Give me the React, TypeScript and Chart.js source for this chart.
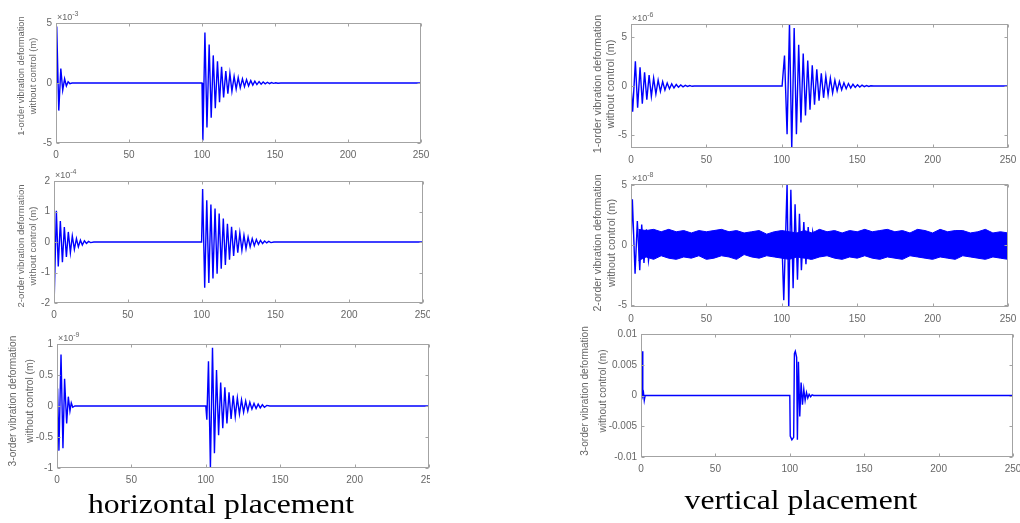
import { useEffect, useRef } from "react";
import { Chart, registerables } from "chart.js";

Chart.register(...registerables);

// ---------- data (in the units shown on each axis) ----------
const xTickValues = [0, 50, 100, 150, 200, 250];

// horizontal placement, 1-order (x10^-3)
const h1Points: [number, number][] = [
  [0, 0], [0.5, 4.7], [1.9, -2.3], [3.3, 1.2], [4.6, -0.6], [5.9, 0.35], [7.1, -0.25], [8.3, 0.1], [9.5, -0.05], [11, 0],
  [100, 0], [100.6, -4.8], [102.0, 4.2], [103.4, -3.7], [104.9, 3.2], [106.3, -2.9], [107.7, 2.3], [109.1, -2.1],
  [110.6, 1.8], [112.0, -1.6], [113.4, 1.35], [114.8, -1.2], [116.3, 1.0], [117.7, -0.9], [119.1, 0.8], [120.5, -0.7],
  [122.0, 0.55], [123.4, -0.5], [124.8, 0.45], [126.2, -0.4], [127.7, 0.35], [129.1, -0.3], [130.5, 0.28], [131.9, -0.24],
  [133.4, 0.2], [134.8, -0.18], [136.2, 0.15], [137.6, -0.13], [139.1, 0.11], [140.5, -0.1], [141.9, 0.08], [143.3, -0.07],
  [144.8, 0.06], [146.2, -0.05], [147.6, 0.04], [149.0, -0.03], [150.5, 0.02], [152, -0.02], [154, 0], [250, 0],
];

// horizontal placement, 2-order (x10^-4)
const h2Points: [number, number][] = [
  [0, 0], [0.2, -1.75], [1.6, 1.02], [2.9, -0.8], [4.3, 0.69], [5.7, -0.66], [7.0, 0.49], [8.4, -0.49], [9.7, 0.33],
  [11.1, -0.35], [12.4, 0.2], [13.8, -0.24], [15.2, 0.11], [16.5, -0.16], [17.9, 0.06], [19.2, -0.1], [20.6, 0.04],
  [22, -0.05], [23.4, 0.02], [24.8, -0.02], [27, 0],
  [100, 0], [100.7, 1.74], [102.1, -1.5], [103.5, 1.37], [104.9, -1.34], [106.3, 1.23], [107.7, -1.2], [109.1, 1.1],
  [110.5, -1.04], [111.9, 0.93], [113.3, -0.88], [114.7, 0.77], [116.1, -0.75], [117.5, 0.6], [118.9, -0.58],
  [120.3, 0.5], [121.7, -0.46], [123.1, 0.38], [124.5, -0.35], [125.9, 0.3], [127.3, -0.27], [128.7, 0.22],
  [130.1, -0.22], [131.5, 0.16], [132.9, -0.16], [134.3, 0.11], [135.7, -0.12], [137.1, 0.08], [138.5, -0.08],
  [139.9, 0.05], [141.3, -0.05], [142.7, 0.03], [144.1, -0.03], [145.5, 0.02], [147, -0.02], [149, 0], [250, 0],
];

// horizontal placement, 3-order (x10^-9)
const h3Points: [number, number][] = [
  [0, 0], [0.4, 0.28], [1.3, -0.72], [2.7, 0.83], [4.0, -0.68], [5.1, 0.44], [6.5, -0.28], [7.6, 0.15], [8.7, -0.08],
  [9.6, 0.05], [10.6, -0.02], [12, 0],
  [100, 0], [100.7, -0.22], [101.8, 0.72], [103.1, -1.0], [104.5, 0.94], [105.8, -0.76], [107.2, 0.58], [108.6, -0.47],
  [110.0, 0.38], [111.4, -0.36], [112.8, 0.3], [114.2, -0.28], [115.6, 0.22], [117.0, -0.21], [118.4, 0.17],
  [119.8, -0.17], [121.2, 0.13], [122.6, -0.13], [124.0, 0.1], [125.4, -0.1], [126.8, 0.08], [128.2, -0.08],
  [129.6, 0.06], [131.0, -0.05], [132.4, 0.04], [133.8, -0.04], [135.2, 0.03], [136.6, -0.03], [138.0, 0.02],
  [139.4, -0.02], [141, 0.01], [143, 0], [250, 0],
];

// vertical placement, 1-order (x10^-6)
const v1Points: [number, number][] = [
  [0, 0], [1.1, -2.6], [2.9, 2.5], [4.4, -2.2], [6.0, 1.9], [7.5, -1.8], [9.0, 1.4], [10.5, -1.4], [12.0, 1.1],
  [13.5, -1.05], [15.0, 0.8], [16.5, -0.8], [18.0, 0.6], [19.5, -0.55], [21.0, 0.45], [22.5, -0.4], [24.0, 0.3],
  [25.5, -0.28], [27.0, 0.22], [28.5, -0.2], [30.0, 0.15], [31.5, -0.13], [33.0, 0.1], [34.5, -0.08], [36.0, 0.06],
  [37.5, -0.05], [39.0, 0.04], [40.5, -0.03], [42, 0],
  [100.2, 0], [101.8, 3.1], [103.5, -4.9], [105.1, 6.4], [106.6, -6.4], [108.2, 5.9], [109.7, -4.9], [111.2, 4.2],
  [112.7, -3.7], [114.2, 3.3], [115.7, -3.0], [117.2, 2.6], [118.7, -2.4], [120.2, 2.1], [121.7, -1.9], [123.2, 1.7],
  [124.7, -1.5], [126.2, 1.3], [127.7, -1.2], [129.2, 1.0], [130.7, -0.9], [132.2, 0.8], [133.7, -0.7], [135.2, 0.6],
  [136.7, -0.5], [138.2, 0.45], [139.7, -0.38], [141.2, 0.33], [142.7, -0.28], [144.2, 0.25], [145.7, -0.2],
  [147.2, 0.18], [148.7, -0.14], [150.2, 0.12], [151.7, -0.1], [153.2, 0.08], [154.7, -0.06], [156.2, 0.05],
  [157.7, -0.04], [159, 0.02], [161, 0], [250, 0],
];

// vertical placement, 2-order (x10^-8): transient spikes
const v2Points: [number, number][] = [
  [0, 0], [0.9, 3.8], [2.7, -2.4], [4.2, 2.0], [5.8, -2.1], [7.1, 1.7], [8.6, -1.5], [10.2, 1.3], [11.6, -1.3], [13, 0],
  [100, 0], [100.4, -1.0], [101.3, -4.6], [103.5, 5.1], [104.6, -5.3], [106.0, 4.6], [107.5, -3.6], [108.8, 3.4],
  [110.4, -2.9], [111.7, 2.6], [113.0, -2.1], [114.6, 1.9], [116.0, -1.6], [117.5, 1.5], [119.0, -1.2], [120.5, 1.1],
  [122, 0], [250, 0],
];

// vertical placement, 2-order (x10^-8): persistent vibration band envelope
const v2BandTime = [
  5, 10, 15, 20, 25, 30, 35, 40, 45, 50, 55, 60, 65, 70, 75, 80, 85, 90, 95, 100, 105, 110, 115, 120, 125,
  130, 135, 140, 145, 150, 155, 160, 165, 170, 175, 180, 185, 190, 195, 200, 205, 210, 215, 220, 225, 230, 235, 240, 245, 250,
];
const v2BandUpper = [
  1.3, 1.2, 1.3, 1.1, 1.3, 1.1, 1.2, 1.0, 1.2, 1.1,
  1.2, 1.3, 1.1, 1.2, 1.0, 1.1, 1.2, 0.9, 1.1, 1.2,
  1.1, 1.0, 1.2, 1.0, 1.3, 1.1, 1.2, 1.0, 1.2, 1.1,
  1.3, 1.1, 1.2, 1.3, 1.1, 1.2, 1.0, 1.3, 1.2, 1.0,
  1.3, 1.1, 1.2, 1.2, 1.0, 1.1, 1.3, 1.0, 1.1, 1.0,
];
const v2BandLower = [
  -1.3, -1.0, -1.2, -0.9, -1.1, -1.2, -1.0, -1.1, -0.9, -1.2,
  -1.1, -0.9, -1.0, -1.2, -0.8, -1.0, -1.1, -0.9, -1.0, -1.1,
  -1.2, -1.0, -1.1, -1.2, -1.0, -0.9, -1.1, -1.2, -1.0, -1.1,
  -0.9, -1.1, -1.2, -1.0, -1.1, -1.2, -0.9, -1.0, -1.1, -1.2,
  -1.0, -1.1, -1.2, -0.9, -1.0, -1.1, -1.2, -1.0, -1.1, -1.2,
];

// vertical placement, 3-order (m)
const v3Points: [number, number][] = [
  [0, 0], [0.3, 0.0072], [0.6, 0.0003], [0.9, 0.0072], [1.2, 0], [1.7, 0.0004], [2.2, -0.0008], [2.8, 0],
  [100, 0], [100.3, -0.0066], [101.4, -0.0072], [102.6, -0.0068], [103.1, 0.0068], [103.7, 0.0072], [104.6, 0.0062],
  [105.1, -0.0072], [105.8, 0.0055], [106.7, -0.0034], [107.6, 0.0021], [108.5, -0.0015], [109.4, 0.001],
  [110.3, -0.0008], [111.2, 0.0005], [112.1, -0.0004], [113, 0.0002], [114, -0.0002], [115, 0.0001], [116, 0], [250, 0],
];

const h1YTicks = [-5, 0, 5];
const h2YTicks = [-2, -1, 0, 1, 2];
const h3YTicks = [-1, -0.5, 0, 0.5, 1];
const v1YTicks = [-5, 0, 5];
const v2YTicks = [-5, 0, 5];
const v3YTicks = [-0.01, -0.005, 0, 0.005, 0.01];

// ---------- layout ----------
type Band = { time: number[]; upper: number[]; lower: number[] };
type Panel = {
  id: string;
  l: number; t: number; r: number; b: number;
  yMin: number; yMax: number; yTicks: number[];
  exponent?: string;
  title: string[]; titleX: number[]; titleY: number; titleSize: number;
  tickSize: number;
  points: [number, number][];
  band?: Band;
};

const AXIS_W = 74;
const PAD_TOP = 26;
const PAD_RIGHT = 24;
const AXIS_H = 26;
const BLUE = "#0000ff";
const TEXT = "#666666";
const FRAME = "#a3a3a3";
const SANS = '"Liberation Sans", Arial, Helvetica, sans-serif';

const panels: Panel[] = [
  { id: "h1", l: 56, t: 23, r: 421, b: 143, yMin: -5, yMax: 5, yTicks: h1YTicks, exponent: "-3",
    title: ["1-order vibration deformation", "without control (m)"], titleX: [21, 33], titleY: 76, titleSize: 9.3,
    tickSize: 10, points: h1Points },
  { id: "h2", l: 54, t: 181, r: 423, b: 303, yMin: -2, yMax: 2, yTicks: h2YTicks, exponent: "-4",
    title: ["2-order vibration deformation", "without control (m)"], titleX: [21, 33], titleY: 246, titleSize: 9.6,
    tickSize: 10, points: h2Points },
  { id: "h3", l: 57, t: 344, r: 429, b: 468, yMin: -1, yMax: 1, yTicks: h3YTicks, exponent: "-9",
    title: ["3-order vibration deformation", "without control (m)"], titleX: [13, 30], titleY: 401, titleSize: 10.2,
    tickSize: 10, points: h3Points },
  { id: "v1", l: 631, t: 24, r: 1008, b: 148, yMin: -6.3, yMax: 6.3, yTicks: v1YTicks, exponent: "-6",
    title: ["1-order vibration deformation", "without control (m)"], titleX: [598, 611], titleY: 84, titleSize: 10.8,
    tickSize: 10, points: v1Points },
  { id: "v2", l: 631, t: 184, r: 1008, b: 307, yMin: -5.17, yMax: 5.08, yTicks: v2YTicks, exponent: "-8",
    title: ["2-order vibration deformation", "without control (m)"], titleX: [598, 612], titleY: 243, titleSize: 10.7,
    tickSize: 10, points: v2Points, band: { time: v2BandTime, upper: v2BandUpper, lower: v2BandLower } },
  { id: "v3", l: 641, t: 334, r: 1013, b: 457, yMin: -0.01, yMax: 0.01, yTicks: v3YTicks,
    title: ["3-order vibration deformation", "without control (m)"], titleX: [585, 603], titleY: 391, titleSize: 10.1,
    tickSize: 10, points: v3Points },
];

function PanelChart({ panel }: { panel: Panel }) {
  const ref = useRef<HTMLCanvasElement>(null);
  const cl = panel.l - AXIS_W;
  const ct = panel.t - PAD_TOP;
  const cw = panel.r - panel.l + AXIS_W + PAD_RIGHT;
  const ch = panel.b - panel.t + PAD_TOP + AXIS_H;

  useEffect(() => {
    const canvas = ref.current;
    if (!canvas) return;
    const datasets: any[] = [];
    if (panel.band) {
      const band = panel.band;
      datasets.push({
        data: band.time.map((x, i) => ({ x, y: band.upper[i] })),
        borderColor: BLUE, backgroundColor: BLUE, borderWidth: 1, pointRadius: 0, fill: "+1", tension: 0,
      });
      datasets.push({
        data: band.time.map((x, i) => ({ x, y: band.lower[i] })),
        borderColor: BLUE, backgroundColor: BLUE, borderWidth: 1, pointRadius: 0, fill: false, tension: 0,
      });
    }
    datasets.push({
      data: panel.points.map(([x, y]) => ({ x, y })),
      borderColor: BLUE, borderWidth: 1.4, pointRadius: 0, fill: false, tension: 0,
    });

    const frame = {
      id: "matlabFrame",
      afterDatasetsDraw(chart: any) {
        const { ctx, chartArea: a } = chart;
        const xs = chart.scales.x;
        const ys = chart.scales.y;
        ctx.save();
        ctx.strokeStyle = FRAME;
        ctx.lineWidth = 1;
        const L = Math.round(a.left) + 0.5, R = Math.round(a.right) - 0.5;
        const T = Math.round(a.top) + 0.5, B = Math.round(a.bottom) - 0.5;
        ctx.strokeRect(L, T, R - L, B - T);
        ctx.beginPath();
        for (const v of xTickValues) {
          const px = Math.round(xs.getPixelForValue(v)) + 0.5;
          ctx.moveTo(px, B); ctx.lineTo(px, B - 3);
          ctx.moveTo(px, T); ctx.lineTo(px, T + 3);
        }
        for (const v of panel.yTicks) {
          const py = Math.round(ys.getPixelForValue(v)) + 0.5;
          ctx.moveTo(L, py); ctx.lineTo(L + 3, py);
          ctx.moveTo(R, py); ctx.lineTo(R - 3, py);
        }
        ctx.stroke();

        // axis title (two rotated lines)
        ctx.fillStyle = TEXT;
        ctx.font = `${panel.titleSize}px ${SANS}`;
        ctx.textAlign = "center";
        ctx.textBaseline = "middle";
        panel.title.forEach((line, i) => {
          ctx.save();
          ctx.translate(panel.titleX[i] - cl, panel.titleY - ct);
          ctx.rotate(-Math.PI / 2);
          ctx.fillText(line, 0, 0);
          ctx.restore();
        });

        // exponent label
        if (panel.exponent) {
          const ex = a.left + 1;
          const ey = a.top - 3;
          ctx.textAlign = "left";
          ctx.textBaseline = "alphabetic";
          ctx.font = `9px ${SANS}`;
          ctx.fillText("\u00d710", ex, ey);
          const w = ctx.measureText("\u00d710").width;
          ctx.font = `7px ${SANS}`;
          ctx.fillText(panel.exponent, ex + w, ey - 4);
        }
        ctx.restore();
      },
    };

    const chart = new Chart(canvas, {
      type: "line",
      data: { datasets },
      options: {
        animation: false,
        responsive: false,
        maintainAspectRatio: false,
        devicePixelRatio: 1,
        events: [],
        normalized: true,
        layout: { padding: { top: PAD_TOP, right: PAD_RIGHT, left: 0, bottom: 0 } },
        plugins: { legend: { display: false }, tooltip: { enabled: false }, title: { display: false } },
        scales: {
          x: {
            type: "linear", min: 0, max: 250,
            grid: { display: false, drawTicks: false },
            border: { display: false },
            afterBuildTicks: (s: any) => { s.ticks = xTickValues.map((value) => ({ value })); },
            afterFit: (s: any) => { s.height = AXIS_H; },
            ticks: {
              padding: 6, color: TEXT, font: { family: SANS, size: panel.tickSize }, maxRotation: 0, autoSkip: false,
              callback: (v: any) => String(v),
            },
          },
          y: {
            type: "linear", min: panel.yMin, max: panel.yMax,
            grid: { display: false, drawTicks: false },
            border: { display: false },
            afterBuildTicks: (s: any) => { s.ticks = panel.yTicks.map((value) => ({ value })); },
            afterFit: (s: any) => { s.width = AXIS_W; },
            ticks: {
              padding: 4, color: TEXT, font: { family: SANS, size: panel.tickSize }, autoSkip: false,
              callback: (v: any) => String(v),
            },
          },
        },
      },
      plugins: [frame],
    } as any);
    return () => chart.destroy();
  }, [panel]);

  return (
    <canvas
      ref={ref}
      width={cw}
      height={ch}
      style={{ position: "absolute", left: cl, top: ct, width: cw, height: ch }}
    />
  );
}

const captionStyle: React.CSSProperties = {
  position: "absolute",
  fontFamily: '"Liberation Serif", "Times New Roman", Times, serif',
  fontSize: 28,
  lineHeight: "28px",
  color: "#000",
  textAlign: "center",
  whiteSpace: "nowrap",
  transform: "scaleX(1.13)",
  transformOrigin: "center",
};

export default function App() {
  const left = panels.slice(0, 3);
  const right = panels.slice(3);
  return (
    <div style={{ position: "fixed", left: 0, top: 0, width: 1020, height: 523, overflow: "hidden", background: "#fff" }}>
      <div style={{ position: "absolute", left: 0, top: 0, width: 430, height: 523, overflow: "hidden" }}>
        {left.map((p) => <PanelChart key={p.id} panel={p} />)}
      </div>
      <div style={{ position: "absolute", left: 0, top: 0, width: 1020, height: 523, overflow: "hidden" }}>
        {right.map((p) => <PanelChart key={p.id} panel={p} />)}
      </div>
      <div style={{ ...captionStyle, left: 21, width: 400, top: 490 }}>horizontal placement</div>
      <div style={{ ...captionStyle, left: 601, width: 400, top: 486 }}>vertical placement</div>
    </div>
  );
}
